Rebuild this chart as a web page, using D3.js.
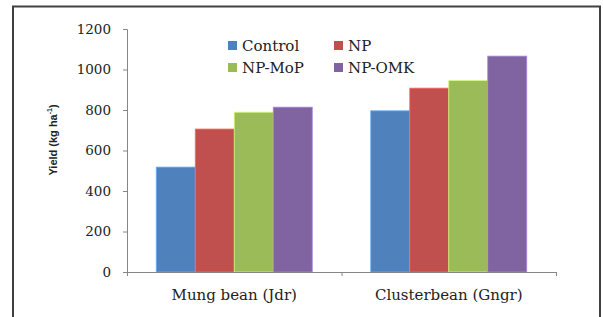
<!DOCTYPE html>
<html>
<head>
<meta charset="utf-8">
<script src="https://cdn.jsdelivr.net/npm/d3@7"></script>
<style>
  body { margin: 0; background: #fff; }
  svg { display: block; }
</style>
</head>
<body>
<svg id="chart" width="603" height="317"></svg>
<script>
var categories = ["Mung bean (Jdr)", "Clusterbean (Gngr)"],
    series = ["Control", "NP", "NP-MoP", "NP-OMK"],
    colors = ["#4F81BD", "#C0504D", "#9BBB59", "#8064A2"],
    control = [518, 796],
    np = [706, 908],
    npMop = [789, 945],
    npOmk = [814, 1066],
    yTicks = [0, 200, 400, 600, 800, 1000, 1200];

var values = [control, np, npMop, npOmk];

var svg = d3.select("#chart"),
    plotLeft = 127, plotRight = 556, plotTop = 29, plotBottom = 272;

// outer frame
svg.append("rect")
    .attr("x", 13).attr("y", 6.5)
    .attr("width", 587).attr("height", 330)
    .attr("fill", "none").attr("stroke", "#404040").attr("stroke-width", 2);

var y = d3.scaleLinear().domain([0, 1200]).range([plotBottom, plotTop]);
var x0 = d3.scaleBand().domain(categories).range([plotLeft, plotRight]);
var x1 = d3.scaleBand().domain(series).range([0, x0.bandwidth()]).paddingOuter(0.75);

// y axis
var yAxis = svg.append("g")
    .attr("transform", "translate(" + plotLeft + ",0)")
    .call(d3.axisLeft(y).tickValues(yTicks).tickSize(4).tickPadding(12).tickFormat(d3.format("d")));
yAxis.selectAll("path, line").attr("stroke", "#868686");
yAxis.selectAll("text")
    .style("font-family", "DejaVu Serif").style("font-size", "13.5px").attr("fill", "#222");

// bars
var rows = [];
categories.forEach(function(c, i) {
  series.forEach(function(s, j) { rows.push({ cat: c, ser: s, v: values[j][i], c: colors[j] }); });
});
svg.append("g").selectAll("rect")
    .data(rows)
    .enter().append("rect")
    .attr("x", function(d) { return x0(d.cat) + x1(d.ser); })
    .attr("y", function(d) { return y(d.v); })
    .attr("width", x1.bandwidth())
    .attr("height", function(d) { return plotBottom - y(d.v); })
    .attr("fill", function(d) { return d.c; })
    .attr("stroke", function(d) { return d3.color(d.c).brighter(0.8); })
    .attr("stroke-width", 0.8);

// x axis: boundary ticks, then category labels
var xb = d3.scaleLinear().domain([0, 2]).range([plotLeft, plotRight]);
var xAxis = svg.append("g")
    .attr("transform", "translate(0," + plotBottom + ")")
    .call(d3.axisBottom(xb).tickValues([0, 1, 2]).tickSize(4).tickSizeOuter(0).tickFormat(""));
xAxis.selectAll("path, line").attr("stroke", "#868686");

svg.append("g").selectAll("text")
    .data(categories)
    .enter().append("text")
    .attr("x", function(d) { return x0(d) + x0.bandwidth() / 2; })
    .attr("y", 300)
    .attr("text-anchor", "middle")
    .style("font-family", "DejaVu Serif").style("font-size", "15px").attr("fill", "#222")
    .text(function(d) { return d; });

// y title
var title = svg.append("text")
    .attr("transform", "translate(57,140) rotate(-90)")
    .attr("text-anchor", "middle")
    .style("font-family", "Liberation Sans, Arial, sans-serif").style("font-size", "11px")
    .style("font-weight", "bold").attr("fill", "#222");
title.append("tspan").text("Yield (kg ha");
title.append("tspan").attr("dy", -5).style("font-size", "7px").text("-1");
title.append("tspan").attr("dy", 5).text(")");

// legend
var legend = svg.append("g").selectAll("g")
    .data(series)
    .enter().append("g")
    .attr("transform", function(d, i) {
      return "translate(" + (228 + (i % 2) * 106) + "," + (41 + Math.floor(i / 2) * 22) + ")";
    });
legend.append("rect").attr("width", 9).attr("height", 9)
    .attr("fill", function(d, i) { return colors[i]; });
legend.append("text").attr("x", 14).attr("y", 9.5)
    .style("font-family", "DejaVu Serif").style("font-size", "15px").attr("fill", "#222")
    .text(function(d) { return d; });
</script>
</body>
</html>
